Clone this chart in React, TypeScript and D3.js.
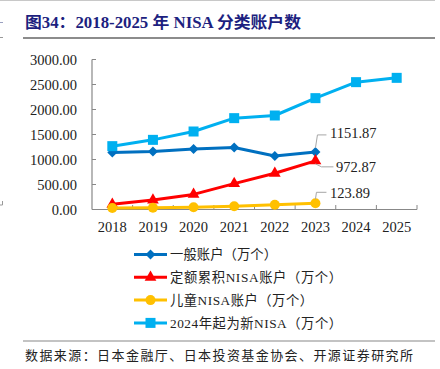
import React from 'react';
import * as d3 from 'd3';

const years = ['2018', '2019', '2020', '2021', '2022', '2023', '2024', '2025'];
const yTicks = [0, 500, 1000, 1500, 2000, 2500, 3000];

const general = [1140, 1160, 1210, 1240, 1070, 1151.87];
const tsumitate = [103, 189, 302, 518, 725, 972.87];
const junior = [30, 35, 45, 65, 95, 123.89];
const newNisa = [1267, 1393, 1560, 1827, 1880, 2227, 2547, 2633];

const series = [
  { name: '一般账户（万个）', values: general, color: '#0070C0', shape: 'diamond', w: 107 },
  { name: '定额累积NISA账户（万个）', values: tsumitate, color: '#FF0000', shape: 'triangle', w: 172 },
  { name: '儿童NISA账户（万个）', values: junior, color: '#FFC000', shape: 'circle', w: 143 },
  { name: '2024年起为新NISA（万个）', values: newNisa, color: '#00B0F0', shape: 'square', w: 172 },
];

const SERIF = '"Liberation Serif", "Times New Roman", "Noto Sans CJK SC", serif';
const CJK = '"Liberation Serif", "Noto Sans CJK SC", serif';

const Marker = ({ shape, x, y, color }: { shape: string; x: number; y: number; color: string }) => {
  if (shape === 'diamond') {
    const r = 5;
    return <path d={`M${x},${y - r}L${x + r},${y}L${x},${y + r}L${x - r},${y}Z`} fill={color} />;
  }
  if (shape === 'triangle') {
    const sym = d3.symbol().type(d3.symbolTriangle).size(60)();
    return <path d={sym || ''} transform={`translate(${x},${y})`} fill={color} />;
  }
  if (shape === 'circle') return <circle cx={x} cy={y} r={5} fill={color} />;
  return <rect x={x - 5} y={y - 5} width={10} height={10} fill={color} />;
};

export default function App() {
  const x = d3.scaleBand<string>().domain(years).range([92, 417]);
  const y = d3.scaleLinear().domain([0, 3000]).range([209.5, 59.5]);
  const cx = (i: number) => (x(years[i]) as number) + x.bandwidth() / 2;
  const line = d3.line<number>().x((_, i) => cx(i)).y((d) => y(d));

  const labels = [
    { i: 5, v: general[5], pts: [[0, -4], [2, -17], [11, -17]], tx: 330, ty: 133 },
    { i: 5, v: tsumitate[5], pts: [[0, 3], [6, 6], [18, 6]], tx: 336, ty: 167 },
    { i: 5, v: junior[5], pts: [[0, -4], [1, -11], [11, -11]], tx: 330, ty: 193 },
  ];

  return (
    <svg width={440} height={369} style={{ position: 'absolute', left: 0, top: 0 }}>
      <rect width={440} height={369} fill="#fff" />
      <line x1={0} x2={435} y1={0.5} y2={0.5} stroke="#c8c8c8" />
      <line x1={0} x2={3} y1={22.5} y2={22.5} stroke="#9aa0c0" />
      <line x1={0} x2={3} y1={37.5} y2={37.5} stroke="#999" />
      <path d="M2.5,201V205H0" fill="none" stroke="#999" />
      <text x={25} y={28} fontFamily={SERIF} fontWeight="bold" fontSize={16} fill="#1d1f80"
        textLength={276} lengthAdjust="spacingAndGlyphs">图34：2018-2025 年 NISA 分类账户数</text>
      <line x1={23} x2={435} y1={38} y2={38} stroke="#666" strokeWidth={1.5} />

      {/* axes */}
      <line x1={92} x2={92} y1={59.5} y2={209.5} stroke="#888" strokeWidth={1.2} />
      <line x1={92} x2={417} y1={209.5} y2={209.5} stroke="#888" strokeWidth={1.2} />
      {yTicks.map((t) => (
        <g key={t}>
          <line x1={92} x2={96} y1={y(t)} y2={y(t)} stroke="#888" />
          <text x={77} y={y(t)} dy="0.35em" textAnchor="end" fontFamily={SERIF} fontSize={14.5} fill="#222">
            {t.toFixed(2)}
          </text>
        </g>
      ))}
      {years.map((yr, i) => (
        <g key={yr}>
          <line x1={(x(yr) as number) + x.bandwidth()} x2={(x(yr) as number) + x.bandwidth()}
            y1={209.5} y2={205} stroke="#888" />
          <text x={cx(i)} y={227} dy="0.35em" textAnchor="middle" fontFamily={SERIF} fontSize={14.5} fill="#222">
            {yr}
          </text>
        </g>
      ))}

      {/* series */}
      {series.map((s) => (
        <g key={s.name}>
          <path d={line(s.values) || ''} fill="none" stroke={s.color} strokeWidth={3} strokeLinejoin="round" />
          {s.values.map((v, i) => (
            <Marker key={i} shape={s.shape} x={cx(i)} y={y(v)} color={s.color} />
          ))}
        </g>
      ))}

      {/* data labels */}
      {labels.map((l, k) => {
        const px = cx(l.i);
        const py = y(l.v);
        const d = 'M' + l.pts.map(([dx, dy]) => `${px + dx},${py + dy}`).join('L');
        return (
          <g key={k}>
            <path d={d} fill="none" stroke="#a6a6a6" strokeWidth={1} />
            <text x={l.tx} y={l.ty} dy="0.35em" fontFamily={SERIF} fontSize={14.5} fill="#222">
              {l.v.toFixed(2)}
            </text>
          </g>
        );
      })}

      {/* legend */}
      {series.map((s, k) => {
        const ly = 254.5 + k * 22.8;
        return (
          <g key={s.name}>
            <line x1={134} x2={167} y1={ly} y2={ly} stroke={s.color} strokeWidth={3} />
            <Marker shape={s.shape} x={150.5} y={ly} color={s.color} />
            <text x={170} y={ly} dy="0.35em" fontFamily={CJK} fontSize={13.3} fill="#222"
              textLength={s.w} lengthAdjust="spacing">{s.name}</text>
          </g>
        );
      })}

      <line x1={23} x2={435} y1={341} y2={341} stroke="#888" strokeWidth={1.2} />
      <text x={25} y={355} dy="0.35em" fontFamily={CJK} fontSize={13} fill="#222"
        textLength={388} lengthAdjust="spacing">数据来源：日本金融厅、日本投资基金协会、开源证券研究所</text>
    </svg>
  );
}
